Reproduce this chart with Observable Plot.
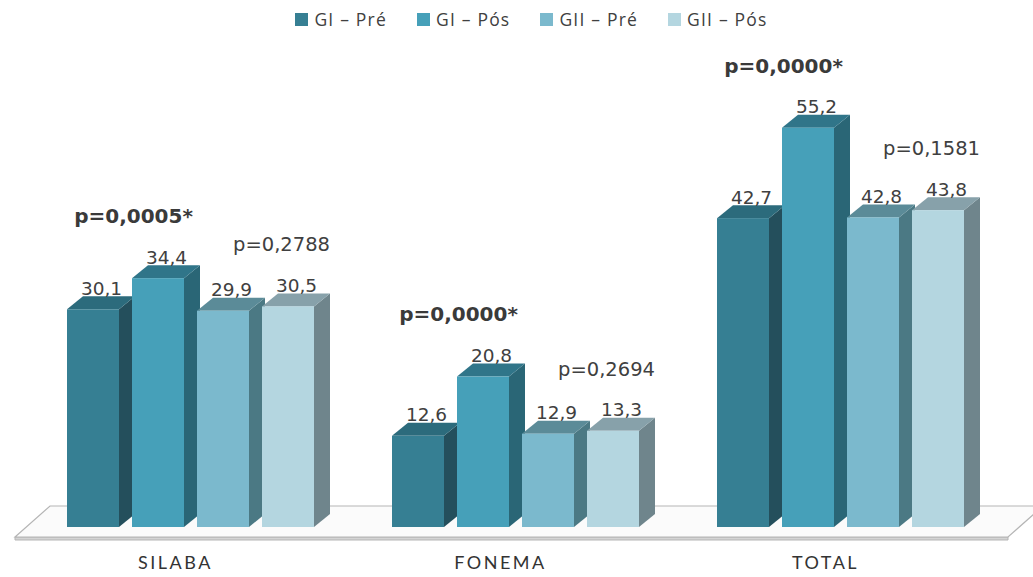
<!DOCTYPE html>
<html>
<head>
<meta charset="utf-8">
<script src="https://cdn.jsdelivr.net/npm/d3@7"></script>
<script src="https://cdn.jsdelivr.net/npm/@observablehq/plot@0.6"></script>
<style>
  html, body { margin: 0; padding: 0; background: #fff; overflow: hidden; }
  #legend { height: 38px; display: flex; justify-content: center; align-items: center; gap: 30px;
    font-family: "Open Sans", sans-serif; font-size: 17.5px; color: #404040; letter-spacing: 1.2px; padding-left: 30px; box-sizing: border-box; }
  #legend .item { display: flex; align-items: center; gap: 6px; }
  #legend .sw { width: 13px; height: 13px; display: inline-block; }
  .cat text { letter-spacing: 2.5px; }
</style>
</head>
<body>
<div id="legend"></div>
<div id="chart"></div>
<script>
// ---- data ----
const groups = ["SILABA", "FONEMA", "TOTAL"];
const series = ["GI – Pré", "GI – Pós", "GII – Pré", "GII – Pós"];
const giPre  = [30.1, 12.6, 42.7];
const giPos  = [34.4, 20.8, 55.2];
const giiPre = [29.9, 12.9, 42.8];
const giiPos = [30.5, 13.3, 43.8];
const pGI  = ["p=0,0005*", "p=0,0000*", "p=0,0000*"];
const pGII = ["p=0,2788", "p=0,2694", "p=0,1581"];

// ---- styles ----
const frontColors = ["#367f93", "#46a0b9", "#7bb9cd", "#b4d6e0"];
const sideColors  = ["#244f5c", "#2a6676", "#4b7984", "#6f858c"];
const topColors   = ["#2c6b7c", "#307589", "#5b8b98", "#87a1aa"];

// ---- tables ----
const valuesBySeries = [giPre, giPos, giiPre, giiPos];
const keyOf = (g, s) => g + "|" + s;
const table = [];
groups.forEach((g, gi) => series.forEach((s, si) => {
  table.push({group: g, series: s, si, key: keyOf(g, s), value: valuesBySeries[si][gi]});
}));
const xDomain = [];
groups.forEach((g, gi) => {
  series.forEach(s => xDomain.push(keyOf(g, s)));
  if (gi < groups.length - 1) xDomain.push("gap" + gi);
});
const pTableGI  = groups.map((g, gi) => ({key: keyOf(g, series[0]), y: Math.max(giPre[gi], giPos[gi]), text: pGI[gi]}));
const pTableGII = groups.map((g, gi) => ({key: keyOf(g, series[2]), y: Math.max(giiPre[gi], giiPos[gi]), text: pGII[gi]}));
const fmt = v => v.toFixed(1).replace(".", ",");

// ---- legend ----
const legend = document.getElementById("legend");
series.forEach((s, i) => {
  const it = document.createElement("span");
  it.className = "item";
  it.innerHTML = `<span class="sw" style="background:${frontColors[i]}"></span><span>${s}</span>`;
  legend.appendChild(it);
});

const NS = "http://www.w3.org/2000/svg";
const DX = 16, DZ = 13;

function poly(points, fill) {
  const p = document.createElementNS(NS, "polygon");
  p.setAttribute("points", points.map(q => q.join(",")).join(" "));
  p.setAttribute("fill", fill);
  return p;
}

// floor
function floorMark(index, scales, values, dims) {
  const g = document.createElementNS(NS, "g");
  const y0 = scales.y(0);
  const yb = y0 + 10, yt = y0 - 21;
  const xl = dims.marginLeft - 52, xr = dims.width - dims.marginRight + 44;
  const strip = poly([[xl, yb], [xr, yb], [xr, yb + 3], [xl, yb + 3]], "#d4d4d4");
  strip.setAttribute("stroke", "#b5b5b5"); strip.setAttribute("stroke-width", 1);
  g.appendChild(strip);
  const top = poly([[xl, yb], [xl + 35, yt], [xr + 35, yt], [xr, yb]], "#fbfbfb");
  top.setAttribute("stroke", "#b5b5b5"); top.setAttribute("stroke-width", 1.2);
  g.appendChild(top);
  return g;
}

// 3D sides and tops, drawn through the scales
function depthMark(index, scales, values, dims) {
  const g = document.createElementNS(NS, "g");
  const bw = typeof scales.x.bandwidth === "function" ? scales.x.bandwidth()
           : (scales.scales && scales.scales.x && scales.scales.x.bandwidth);
  for (const d of table) {
    const x = scales.x(d.key), yt = scales.y(d.value), yb = scales.y(0);
    g.appendChild(poly([[x + bw, yt], [x + bw + DX, yt - DZ], [x + bw + DX, yb - DZ], [x + bw, yb]], sideColors[d.si]));
    g.appendChild(poly([[x, yt], [x + DX, yt - DZ], [x + bw + DX, yt - DZ], [x + bw, yt]], topColors[d.si]));
  }
  return g;
}

const chart = Plot.plot({
  width: 1033,
  height: 539,
  marginLeft: 67,
  marginRight: 69,
  marginTop: 55,
  marginBottom: 50,
  x: {domain: xDomain, paddingInner: 0.2, paddingOuter: 0, axis: null},
  y: {domain: [0, 60], axis: null},
  color: {domain: series, range: frontColors},
  style: {background: "transparent", overflow: "visible"},
  marks: [
    floorMark,
    depthMark,
    Plot.barY(table, {x: "key", y: "value", fill: "series"}),
    Plot.text(table, {x: "key", y: "value", text: d => fmt(d.value), dx: 8, dy: -15, lineAnchor: "bottom",
      fontFamily: "DejaVu Sans", fontSize: 18.5, fill: "#404040"}),
    Plot.text(pTableGI, {x: "key", y: "y", text: "text", dx: 40, dy: -62, lineAnchor: "middle",
      fontFamily: "DejaVu Sans", fontSize: 20, fontWeight: "bold", fill: "#3a3a3a"}),
    Plot.text(pTableGII, {x: "key", y: "y", text: "text", dx: 58, dy: -62, lineAnchor: "middle",
      fontFamily: "DejaVu Sans", fontSize: 19.5, fill: "#404040"}),
    Plot.text(groups, {x: g => keyOf(g, series[1]), text: d => d, frameAnchor: "bottom", dx: 17, dy: 36,
      lineAnchor: "middle", fontFamily: "Lato", fontSize: 18, fill: "#333", className: "cat"})
  ]
});
document.getElementById("chart").appendChild(chart);
</script>
</body>
</html>
